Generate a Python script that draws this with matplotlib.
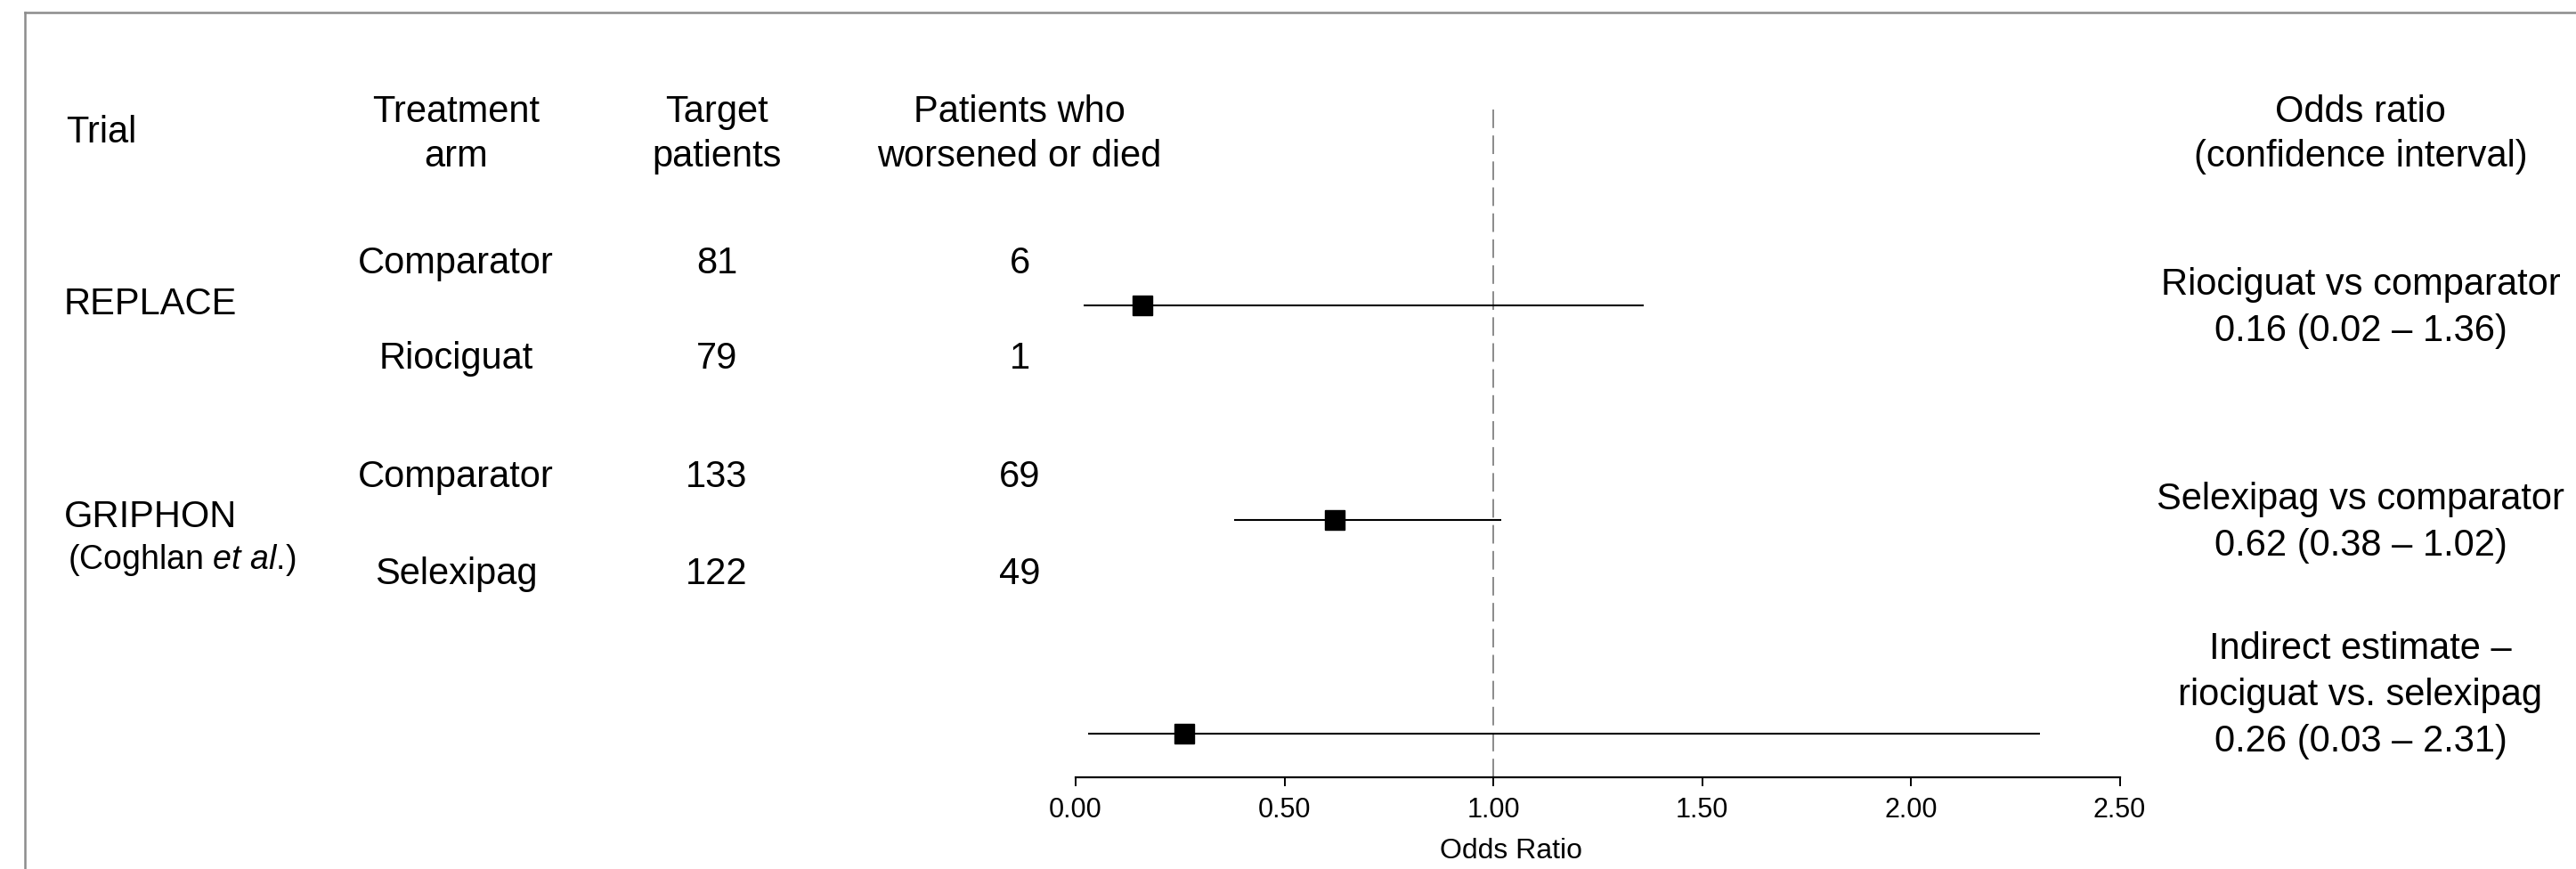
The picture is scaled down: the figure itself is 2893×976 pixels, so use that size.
import matplotlib
matplotlib.use('Agg')
import matplotlib.pyplot as plt
from matplotlib.lines import Line2D

plt.rcParams['font.family'] = ['Liberation Sans', 'DejaVu Sans']
plt.rcParams['mathtext.fontset'] = 'custom'
plt.rcParams['mathtext.rm'] = 'Liberation Sans'
plt.rcParams['mathtext.it'] = 'Liberation Sans:italic'
plt.rcParams['lines.scale_dashes'] = False

# data
trials = ['REPLACE', 'GRIPHON']
trial_refs = ['', r'(Coghlan $\it{et\ al.}\!$)']
arms = ['Comparator', 'Riociguat', 'Comparator', 'Selexipag']
target_n = [81, 79, 133, 122]
worsened = [6, 1, 69, 49]
comparisons = ['Riociguat vs comparator',
               'Selexipag vs comparator',
               'Indirect estimate \u2013\nriociguat vs. selexipag']
odds = [0.16, 0.62, 0.26]
ci_lo = [0.02, 0.38, 0.03]
ci_hi = [1.36, 1.02, 2.31]
xticks = [0.0, 0.5, 1.0, 1.5, 2.0, 2.5]

W, H = 2893, 976
fig = plt.figure(figsize=(W / 100, H / 100), dpi=100)

def fx(x):
    return x / W

def fy(y):
    return 1 - y / H

FS = 30

# frame lines (gray, cropped box)
fig.add_artist(Line2D([fx(28), 1], [fy(14), fy(14)], color='#8c8c8c', lw=1.8))
fig.add_artist(Line2D([fx(28), fx(28)], [fy(14), 0], color='#8c8c8c', lw=1.8))

# column headers
hdr = [(74, 'left', ['Trial'], [160]),
       (512, 'center', ['Treatment', 'arm'], [137, 187]),
       (805, 'center', ['Target', 'patients'], [137, 187]),
       (1145, 'center', ['Patients who', 'worsened or died'], [137, 187]),
       (2651, 'center', ['Odds ratio', '(confidence interval)'], [137, 187])]
for x, ha, lines, ys in hdr:
    for s, y in zip(lines, ys):
        fig.text(fx(x), fy(y), s, ha=ha, va='baseline', fontsize=FS)

# trial names
trial_y = [353, 592]
for name, ref, y in zip(trials, trial_refs, trial_y):
    fig.text(fx(72), fy(y), name, ha='left', va='baseline', fontsize=FS)
    if ref:
        fig.text(fx(76), fy(y + 47), ref, ha='left', va='baseline', fontsize=27)

# arm rows
arm_y = [307, 414, 547, 656]
for arm, n, ev, y in zip(arms, target_n, worsened, arm_y):
    fig.text(fx(512), fy(y), arm, ha='center', va='baseline', fontsize=FS)
    fig.text(fx(805), fy(y), str(n), ha='center', va='baseline', fontsize=FS)
    fig.text(fx(1145), fy(y), str(ev), ha='center', va='baseline', fontsize=FS)

# comparison labels on the right
comp_y = [331, 572, 740]
for comp, o, lo, hi, y in zip(comparisons, odds, ci_lo, ci_hi, comp_y):
    lines = comp.split('\n') + ['%.2f (%.2f \u2013 %.2f)' % (o, lo, hi)]
    for k, s in enumerate(lines):
        fig.text(fx(2651), fy(y + 52 * k), s, ha='center', va='baseline', fontsize=FS)

# forest plot
x0, x1, ytop, yax = 1208, 2380.5, 116, 873
ax = fig.add_axes([fx(x0), fy(yax), fx(x1 - x0), (yax - ytop) / H])
rows = list(range(len(odds)))
for r, o, lo, hi in zip(rows, odds, ci_lo, ci_hi):
    ax.plot([lo, hi], [r, r], color='black', lw=1.5, solid_capstyle='butt')
    ax.plot([o], [r], marker='s', markersize=16.5, color='black', lw=0)
ax.axvline(1.0, color='#8a8a8a', lw=1.4, dashes=(15, 6), zorder=0)

ax.set_xlim(0, 2.5)
ax.set_ylim(2 + 49 / 240.5, -227 / 240.5)
for s in ['top', 'right', 'left']:
    ax.spines[s].set_visible(False)
ax.spines['bottom'].set_linewidth(1.6)
ax.set_yticks([])
ax.set_xticks(xticks)
ax.set_xticklabels(['%.2f' % t for t in xticks], fontsize=22)
ax.tick_params(axis='x', length=7, width=1.4, pad=9)
fig.text(fx(1697), fy(956), 'Odds Ratio', ha='center', va='center', fontsize=23)

fig.savefig('out.png', dpi=100)
